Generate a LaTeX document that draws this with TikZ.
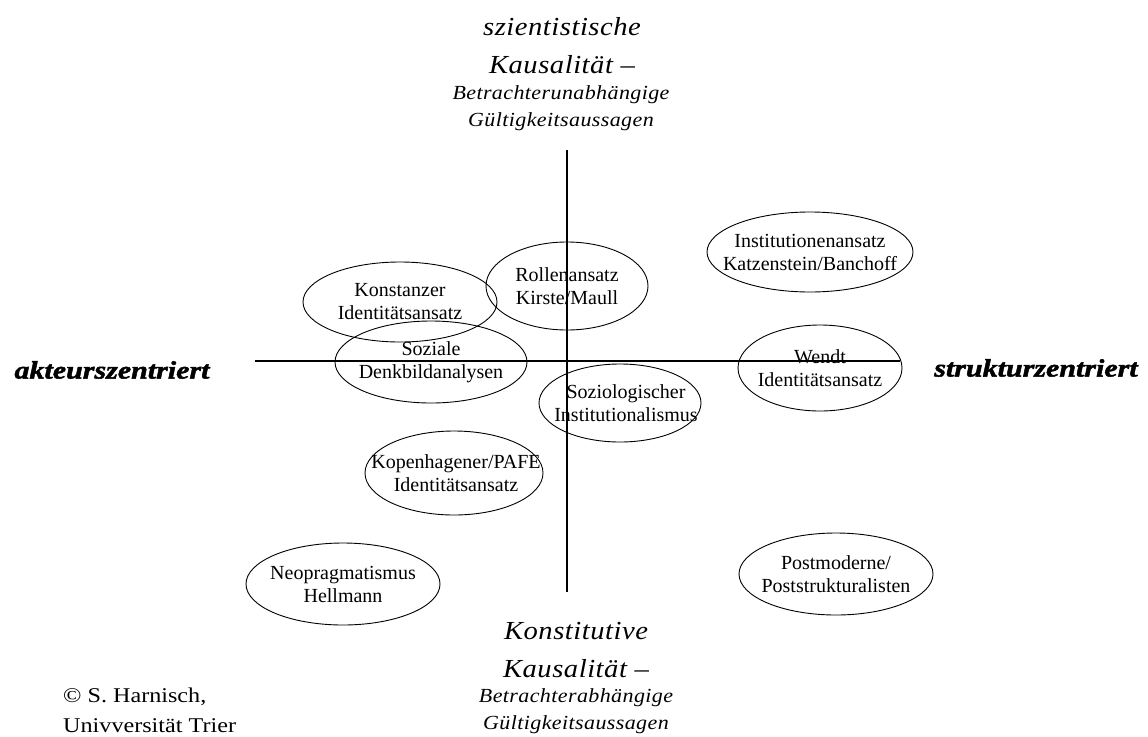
\documentclass[tikz,border=0pt]{standalone}
\usepackage{fontspec}
\setmainfont{Liberation Serif}
\newfontfamily\polefont[FakeStretch=1.1,LetterSpace=2]{Liberation Serif}
\newfontfamily\axisfont[FakeStretch=1.2,FakeBold=1.8]{Liberation Serif}
\newfontfamily\creditfont[FakeStretch=1.15]{Liberation Serif}
\usetikzlibrary{
  shapes.geometric,
}

\begin{document}
\begin{tikzpicture}[
  x=1pt, y=-1pt,
  axis/.style={line width=1.2pt},
  rim/.style={line width=0.9pt},
  approach/.style={align=center, inner sep=0pt, font=\fontsize{20}{23}\selectfont},
  pole big/.style={align=center, inner sep=0pt, font=\polefont\itshape\fontsize{26}{38}\selectfont},
  pole small/.style={align=center, inner sep=0pt, font=\polefont\itshape\fontsize{20}{27}\selectfont},
  side/.style={inner sep=0pt, font=\axisfont\bfseries\itshape\fontsize{25}{30}\selectfont},
]
\useasboundingbox (0,0) rectangle (1148,736);

% the two axes
\coordinate (top) at (567,150);
\coordinate (bottom) at (567,592);
\coordinate (left) at (255,361);
\coordinate (right) at (900,361);
\draw[axis] (top) -- (bottom);
\draw[axis] (left) -- (right);

% poles
\node[pole big] (scibig) at (562,46) {szientistische\\Kausalität –};
\node[pole small] (scismall) at (561,108) {Betrachterunabhängige\\Gültigkeitsaussagen};
\node[pole big] (konbig) at (576,650) {Konstitutive\\Kausalität –};
\node[pole small] (konsmall) at (576,711) {Betrachterabhängige\\Gültigkeitsaussagen};
\node[side] (actor) at (112,370) {akteurszentriert};
\node[side] (structure) at (1036,368) {strukturzentriert};

% approaches
\node[approach] (inst) at (810,252) {Institutionenansatz\\Katzenstein/Banchoff};
\draw[rim] (inst.center) ellipse [x radius=103, y radius=40];
\node[approach] (wendt) at (820,368) {Wendt\\Identitätsansatz};
\draw[rim] (wendt.center) ellipse [x radius=82, y radius=43];
\node[approach] (konst) at (400,302) {Konstanzer\\Identitätsansatz};
\draw[rim] (konst.center) ellipse [x radius=97, y radius=40];
\node[approach] (rollen) at (567,286) {Rollenansatz\\Kirste/Maull};
\draw[rim] (rollen.center) ellipse [x radius=81, y radius=44];
\node[approach] (soziale) at (431,362) {Soziale\\Denkbildanalysen};
\draw[rim] (soziale.center) ellipse [x radius=96, y radius=41];
\node[approach] (soziol) at (626,403) {Soziologischer\\Institutionalismus};
\draw[rim] (620,403) ellipse [x radius=81, y radius=39];
\node[approach] (kopen) at (456,473) {Kopenhagener/PAFE\\Identitätsansatz};
\draw[rim] (454,473) ellipse [x radius=89, y radius=42];
\node[approach] (neo) at (343,584) {Neopragmatismus\\Hellmann};
\draw[rim] (neo.center) ellipse [x radius=97, y radius=41];
\node[approach] (postm) at (836,574) {Postmoderne/\\Poststrukturalisten};
\draw[rim] (postm.center) ellipse [x radius=97, y radius=41];

% credit
\node[anchor=west, align=left, inner sep=0pt, font=\creditfont\fontsize{21}{30}\selectfont] (credit) at (63,710) {© S. Harnisch,\\Univversität Trier};
\end{tikzpicture}
\end{document}
